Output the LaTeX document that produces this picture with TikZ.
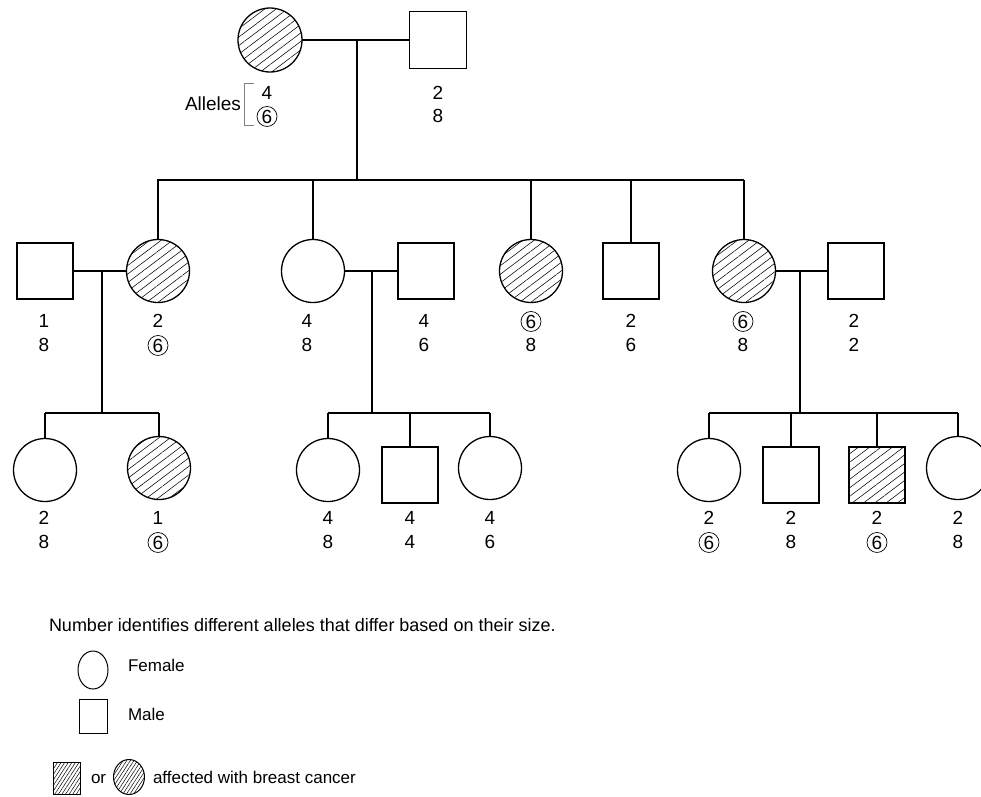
\documentclass[tikz,border=0pt]{standalone}
\usepackage{fontspec}
\setmainfont{Liberation Sans}
\usetikzlibrary{patterns.meta,shapes.geometric}
\begin{document}
\begin{tikzpicture}[x=1pt,y=-1pt,
  every node/.style={inner sep=0pt, outer sep=0pt},
  conn/.style={line width=1.3pt},
  fem/.style={circle, draw, line width=1.3pt, minimum size=63pt},
  mal/.style={rectangle, draw, line width=1.3pt, minimum size=56pt},
  hatch/.style={pattern={Lines[angle=37,distance=6.8pt,line width=0.55pt]}},
  hatchs/.style={pattern={Lines[angle=57,distance=3pt,line width=0.5pt]}},
  lab/.style={anchor=base, font=\fontsize{19}{23}\selectfont},
  circ/.style={lab, circle, draw, line width=0.7pt, minimum size=20pt},
  leg/.style={anchor=base west, font=\fontsize{17}{21}\selectfont},
]
\useasboundingbox (0,0) rectangle (981,796);

% Generation I
\node[fem, hatch, minimum size=64pt] (I1) at (270,40) {};
\node[mal, minimum size=57pt] (I2) at (438,40) {};
\coordinate (mI) at (357,40);
\coordinate (sI) at (357,180);
\coordinate (sIL) at (157,180);
\coordinate (sIR) at (744,180);
\draw[conn] (I1.east) -- (I2.west);
\draw[conn] (mI) -- (sI);
\draw[conn] (sIL) -- (sIR);

\node[lab] (aI1a) at (267,99) {4};
\node[circ] (aI1b) at (267,123) {6};
\node[lab] (aI2a) at (438,99) {2};
\node[lab] (aI2b) at (438,122) {8};
\node[anchor=base east, font=\fontsize{19}{23}\selectfont] (alle) at (241,110) {Alleles};
\draw[gray, line width=1pt] (254,83) -- (244,83) -- (244,125) -- (254,125);

% Generation II
\node[mal] (IIa) at (45,271) {};
\node[fem, hatch] (II2) at (158,271) {};
\node[fem] (II3) at (313,271) {};
\node[mal] (IIb) at (426,271) {};
\node[fem, hatch] (II5) at (531,271) {};
\node[mal] (II6) at (631,271) {};
\node[fem, hatch] (II7) at (744,271) {};
\node[mal] (IIc) at (856,271) {};

\foreach \n in {II2,II3,II5,II6,II7}
  \draw[conn] (\n.north |- sIL) -- (\n.north);

\coordinate (mIIa) at (102,271);
\coordinate (mIIb) at (372,271);
\coordinate (mIIc) at (800,271);
\draw[conn] (IIa.east) -- (II2.west);
\draw[conn] (II3.east) -- (IIb.west);
\draw[conn] (II7.east) -- (IIc.west);

\node[lab] at (44,327) {1};   \node[lab] at (44,351) {8};
\node[lab] at (158,327) {2};  \node[circ] at (158,352) {6};
\node[lab] at (307,327) {4};  \node[lab] at (307,351) {8};
\node[lab] at (424,327) {4};  \node[lab] at (424,351) {6};
\node[circ] at (531,328) {6}; \node[lab] at (531,351) {8};
\node[lab] at (631,327) {2};  \node[lab] at (631,351) {6};
\node[circ] at (743,328) {6}; \node[lab] at (743,351) {8};
\node[lab] at (854,327) {2};  \node[lab] at (854,351) {2};

% Generation III
\coordinate (sA) at (102,413);
\coordinate (sB) at (372,413);
\coordinate (sC) at (800,413);
\draw[conn] (mIIa) -- (sA);
\draw[conn] (mIIb) -- (sB);
\draw[conn] (mIIc) -- (sC);

\node[fem] (A1) at (45,470) {};
\node[fem, hatch] (A2) at (159,468) {};
\node[fem] (B1) at (328,470) {};
\node[mal] (B2) at (410,475) {};
\node[fem] (B3) at (490,468) {};
\node[fem] (C1) at (709,470) {};
\node[mal] (C2) at (791,475) {};
\node[mal, hatch] (C3) at (877,475) {};
\node[fem] (C4) at (958,468) {};

\draw[conn] (A1.north |- sA) -- (A2.north |- sA);
\draw[conn] (B1.north |- sB) -- (B3.north |- sB);
\draw[conn] (C1.north |- sC) -- (C4.north |- sC);
\foreach \n/\s in {A1/sA,A2/sA,B1/sB,B2/sB,B3/sB,C1/sC,C2/sC,C3/sC,C4/sC}
  \draw[conn] (\n.north |- \s) -- (\n.north);

\node[lab] at (44,524) {2};   \node[lab] at (44,548) {8};
\node[lab] at (158,524) {1};  \node[circ] at (158,549) {6};
\node[lab] at (328,524) {4};  \node[lab] at (328,548) {8};
\node[lab] at (410,524) {4};  \node[lab] at (410,548) {4};
\node[lab] at (490,524) {4};  \node[lab] at (490,548) {6};
\node[lab] at (709,524) {2};  \node[circ] at (709,549) {6};
\node[lab] at (791,524) {2};  \node[lab] at (791,548) {8};
\node[lab] at (877,524) {2};  \node[circ] at (877,549) {6};
\node[lab] at (958,524) {2};  \node[lab] at (958,548) {8};

% Legend
\node[anchor=base west, font=\fontsize{18}{22}\selectfont] (note) at (49,631)
  {Number identifies different alleles that differ based on their size.};
\node[ellipse, draw, line width=1pt, minimum width=30pt, minimum height=38pt] (lf) at (93,670) {};
\node[leg] (lft) at (128,671) {Female};
\node[rectangle, draw, line width=1pt, minimum width=28pt, minimum height=34pt] (lm) at (93,716) {};
\node[leg] (lmt) at (128,720) {Male};
\node[rectangle, draw, line width=1pt, hatchs, minimum width=27pt, minimum height=32pt] (lh) at (66.5,778) {};
\node[leg] (lor) at (91,783) {or};
\node[ellipse, draw, line width=1pt, hatchs, minimum width=31pt, minimum height=35pt] (lhe) at (129,777) {};
\node[leg] (lht) at (153,783) {affected with breast cancer};
\end{tikzpicture}
\end{document}
